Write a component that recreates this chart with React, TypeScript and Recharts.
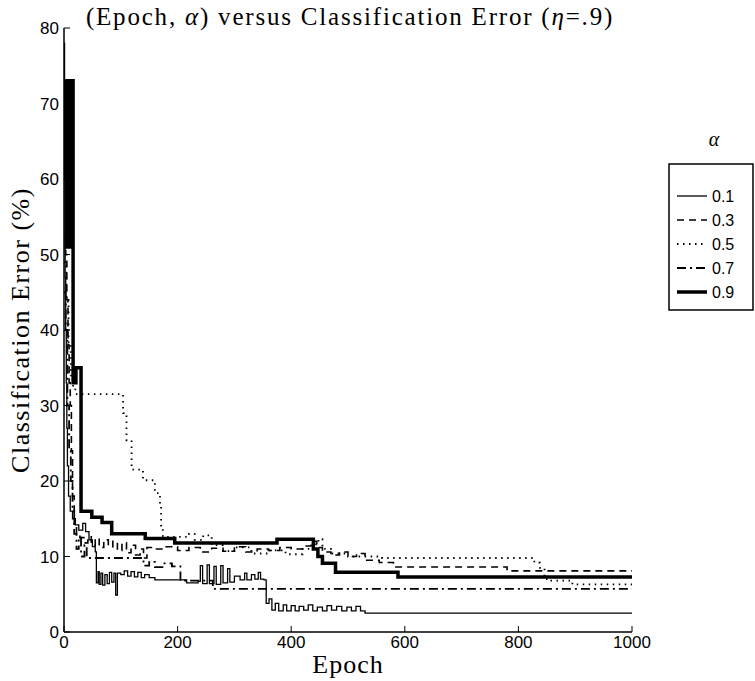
import { LineChart, Line, XAxis, YAxis, Legend } from 'recharts';

// [epoch, classification error %]
const alpha01: [number, number][] = [
  [0, 78], [1, 60], [2, 47], [3, 40], [4, 33], [5, 27], [6, 22], [8, 18], [11, 16], [15, 15],
  [20, 14.2], [26, 13.5], [33, 14.4], [38, 13.3], [44, 12.2], [50, 11.3], [55, 10.6], [57, 6.5],
  [60, 8], [62, 6.3], [65, 7.8], [68, 6.2], [72, 7.6], [76, 6.4], [80, 7.9], [84, 6.6], [88, 7.8],
  [91, 4.9], [94, 7.8], [100, 7.6], [106, 8.1], [112, 7.4], [118, 8], [124, 7.3], [130, 7.9],
  [136, 7.2], [142, 7.6], [150, 7.2], [160, 6.9], [216, 6.5], [236, 6.7], [240, 8.8], [244, 6.4],
  [252, 8.9], [256, 6.4], [264, 8.7], [268, 6.3], [276, 8.8], [280, 6.5], [288, 8.4], [292, 6.6],
  [300, 7.4], [310, 6.9], [318, 7.8], [322, 6.9], [330, 7.6], [336, 7], [342, 7.9], [346, 7],
  [352, 6.9], [356, 3.8], [361, 4.4], [366, 2.9], [372, 3.8], [378, 2.8], [386, 3.6], [392, 2.8],
  [400, 3.5], [407, 2.8], [414, 3.4], [422, 2.9], [430, 3.6], [438, 2.8], [446, 3.3], [455, 2.8],
  [463, 3.5], [471, 2.9], [480, 3.4], [489, 2.8], [498, 3.3], [506, 2.8], [514, 3.4], [522, 2.8],
  [530, 2.5], [1000, 2.5],
];

const alpha03: [number, number][] = [
  [0, 52], [3, 50], [5, 44], [7, 38], [9, 33], [11, 30], [13, 24], [15, 18], [18, 14], [22, 13],
  [28, 12.5], [35, 11.8], [42, 12.6], [48, 11.5], [55, 12.4], [62, 11.2], [70, 12.2], [78, 11.3],
  [86, 12], [94, 10.8], [102, 11.8], [110, 10.5], [118, 11.5], [126, 10.2], [134, 11], [140, 9.8],
  [146, 11.2], [160, 11], [180, 11.3], [200, 10.8], [220, 11.2], [240, 10.6], [260, 11.1],
  [280, 10.7], [300, 11.3], [320, 10.6], [340, 11], [360, 10.8], [380, 11.2], [400, 11],
  [420, 11.4], [435, 12], [445, 11.2], [455, 10.6], [470, 10.2], [485, 10.6], [500, 10],
  [515, 10.4], [530, 9.5], [555, 9.2], [580, 8.6], [780, 8.1], [1000, 8.1],
];

const alpha05: [number, number][] = [
  [0, 49], [4, 44], [8, 38], [12, 34], [16, 32.5], [20, 31.5], [100, 31.5], [104, 29], [110, 25.4],
  [119, 21.5], [139, 20.1], [160, 18.4], [169, 16.6], [171, 13.9], [174, 12.6], [210, 12.6],
  [220, 13], [230, 12.2], [245, 12.8], [260, 11.5], [280, 10.7], [300, 11.2], [330, 10.4],
  [360, 10.8], [390, 10.3], [420, 11], [440, 11.6], [448, 12.3], [455, 11], [470, 10.4],
  [500, 10], [560, 9.8], [820, 9.8], [828, 9.2], [838, 8.5], [846, 7], [852, 6.8], [895, 6.3],
  [1000, 6.3],
];

const alpha07: [number, number][] = [
  [0, 45], [3, 40], [6, 30], [9, 24], [12, 20], [15, 16], [18, 13], [22, 11], [26, 12.5], [30, 10],
  [36, 11.5], [40, 9.8], [135, 9.8], [140, 8.8], [150, 9.3], [160, 8.6], [175, 9.1], [190, 8.7],
  [205, 6.8], [262, 5.7], [1000, 5.7],
];

const alpha09: [number, number][] = [
  [3, 73], [4, 51], [5, 73], [6, 51], [7, 73], [8, 51], [9, 73], [10, 51], [11, 73], [12, 51],
  [13, 73], [14, 51], [15, 73], [16, 33], [21, 35], [30, 16], [49, 15.2], [67, 14.5], [84, 13],
  [143, 12.4], [195, 11.8], [375, 12.3], [439, 11], [447, 10], [455, 9.1], [478, 7.9],
  [588, 7.3], [1000, 7.3],
];

const xTicks = [0, 200, 400, 600, 800, 1000];
const yTicks = [0, 10, 20, 30, 40, 50, 60, 70, 80];

const toPoints = (arr: [number, number][]) => arr.map(([epoch, err]) => ({ epoch, err }));

const SERIES = [
  { name: '0.1', data: toPoints(alpha01), width: 1.3, dash: undefined as string | undefined },
  { name: '0.3', data: toPoints(alpha03), width: 1.6, dash: '7 5' },
  { name: '0.5', data: toPoints(alpha05), width: 1.8, dash: '1.5 4.5' },
  { name: '0.7', data: toPoints(alpha07), width: 1.8, dash: '9 4 2 4' },
  { name: '0.9', data: toPoints(alpha09), width: 3.5, dash: undefined },
];

const serif = '"Liberation Serif", "Times New Roman", serif';
const sans = '"Liberation Sans", Arial, sans-serif';

function LegendBox() {
  return (
    <svg width={93} height={200} style={{ overflow: 'visible' }}>
      <text x={52} y={24} textAnchor="middle" fontFamily={serif} fontStyle="italic" fontSize={20}>α</text>
      <rect x={7} y={42} width={84} height={146} fill="#fff" stroke="#000" strokeWidth={1.5} />
      {SERIES.map((s, i) => {
        const y = 74 + i * 24;
        return (
          <g key={s.name}>
            <line x1={15} x2={45} y1={y} y2={y} stroke="#000" strokeWidth={s.width} strokeDasharray={s.dash} />
            <text x={50} y={y + 6} fontFamily={sans} fontSize={16}>{s.name}</text>
          </g>
        );
      })}
    </svg>
  );
}

export default function App() {
  return (
    <div style={{ position: 'absolute', left: 0, top: 0, width: 755, height: 681, background: '#fff' }}>
      <div
        style={{
          position: 'absolute', left: 2, top: 3, width: 696, textAlign: 'center',
          fontFamily: serif, fontSize: 25, letterSpacing: 1.8, color: '#000', whiteSpace: 'nowrap',
        }}
      >
        (Epoch, <i>α</i>) versus Classification Error (<i>η</i>=.9)
      </div>
      <LineChart width={755} height={681} margin={{ top: 28, right: 123, bottom: 0, left: 0 }}>
        <XAxis
          dataKey="epoch" type="number" domain={[0, 1000]} ticks={xTicks} allowDataOverflow
          height={49} tickSize={-6} tickMargin={10}
          axisLine={{ stroke: '#000', strokeWidth: 1.5 }} tickLine={{ stroke: '#000' }}
          tick={{ fill: '#000', fontFamily: sans, fontSize: 17 }}
          label={{
            value: 'Epoch', position: 'insideBottom', offset: 8, fill: '#000',
            fontFamily: serif, fontSize: 26, style: { letterSpacing: 1 },
          }}
        />
        <XAxis
          xAxisId="top" orientation="top" type="number" domain={[0, 1000]} ticks={xTicks}
          height={0} tickSize={-6} tick={false}
          axisLine={{ stroke: '#000', strokeWidth: 1.5 }} tickLine={{ stroke: '#000' }}
        />
        <YAxis
          type="number" domain={[0, 80]} ticks={yTicks} width={64} tickSize={-6} tickMargin={11}
          axisLine={{ stroke: '#000', strokeWidth: 1.5 }} tickLine={{ stroke: '#000' }}
          tick={{ fill: '#000', fontFamily: sans, fontSize: 17 }}
          label={{
            value: 'Classification Error (%)', angle: -90, position: 'insideLeft', offset: 20,
            fill: '#000', fontFamily: serif, fontSize: 26,
            style: { textAnchor: 'middle', letterSpacing: 1.5 },
          }}
        />
        <YAxis
          yAxisId="right" orientation="right" type="number" domain={[0, 80]} ticks={yTicks}
          width={0} tickSize={-6} tick={false}
          axisLine={{ stroke: '#000', strokeWidth: 1.5 }} tickLine={{ stroke: '#000' }}
        />
        <Legend
          layout="vertical" align="center" verticalAlign="middle"
          wrapperStyle={{ left: 662, top: 122, width: 93, height: 200 }}
          content={() => <LegendBox />}
        />
        {SERIES.map((s) => (
          <Line
            key={s.name} name={s.name} data={s.data} dataKey="err" type="stepAfter"
            stroke="#000" strokeWidth={s.width} strokeDasharray={s.dash}
            dot={false} activeDot={false} isAnimationActive={false}
          />
        ))}
      </LineChart>
    </div>
  );
}
